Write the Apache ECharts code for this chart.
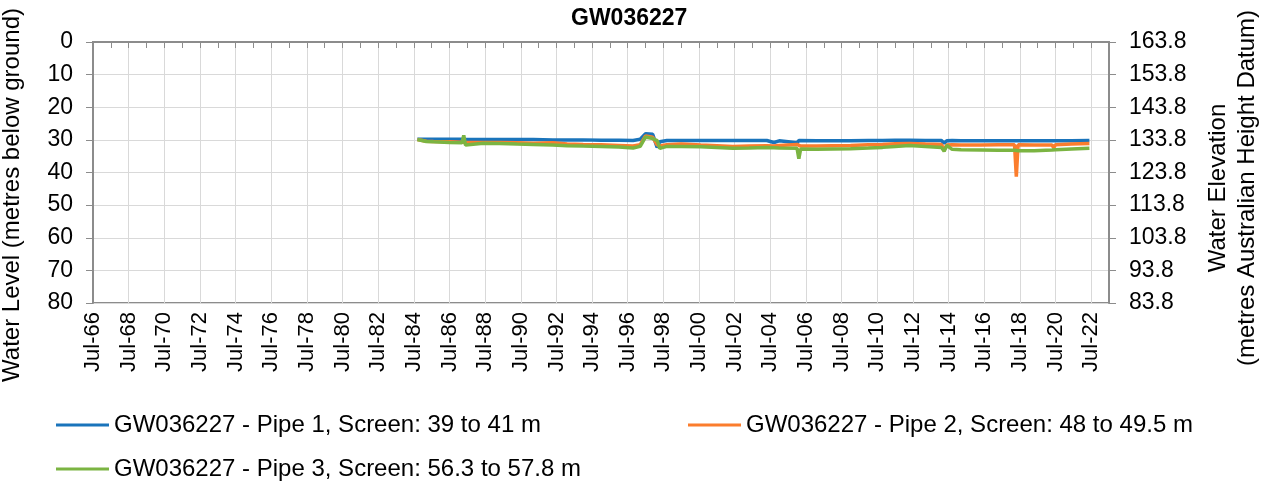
<!DOCTYPE html>
<html>
<head>
<meta charset="utf-8">
<script src="https://cdn.jsdelivr.net/npm/echarts@6/dist/echarts.min.js"></script>
<style>
  html, body { margin: 0; padding: 0; background: #fff; }
  #chart { width: 1264px; height: 488px; }
</style>
</head>
<body>
<div id="chart"></div>
<script>
// 时间（小数年份）
const dates = [1984.7, 1985.2, 1985.6, 1986.5, 1987.2, 1987.3, 1987.4, 1988.4, 1989.3, 1990.3,
  1991.2, 1992.3, 1993.1, 1994.0, 1995.0, 1996.0, 1996.8, 1997.2, 1997.5, 1997.9,
  1998.15, 1998.3, 1998.7, 1999.5, 2000.6, 2001.5, 2002.4, 2003.3, 2004.3, 2004.7,
  2005.0, 2006.0, 2006.1, 2006.2, 2007.1, 2008.0, 2009.0, 2010.0, 2010.8, 2011.5,
  2012.3, 2013.2, 2014.1, 2014.25, 2014.4, 2014.7, 2015.2, 2016.3, 2017.3, 2018.2,
  2018.3, 2018.4, 2019.3, 2020.3, 2020.4, 2020.5, 2021.4, 2022.4]

// 水位（米，地面以下）
const pipe1 = [29.8, 29.8, 29.8, 29.8, 29.8, 29.6, 29.9, 29.9, 29.9, 29.9,
  29.9, 30.0, 30.0, 30.0, 30.1, 30.1, 30.2, 29.8, 28.1, 28.3,
  32.3, 30.6, 30.2, 30.2, 30.2, 30.2, 30.2, 30.2, 30.2, 30.8,
  30.3, 30.9, 30.2, 30.6, 30.3, 30.3, 30.3, 30.2, 30.2, 30.1,
  30.1, 30.2, 30.2, 31.0, 30.3, 30.2, 30.3, 30.3, 30.3, 30.3,
  30.3, 30.3, 30.3, 30.3, 30.3, 30.3, 30.3, 30.2]
const pipe2 = [29.9, 30.4, 30.5, 30.6, 30.7, 30.6, 30.8, 30.8, 30.8, 30.9,
  31.0, 30.9, 31.3, 31.4, 31.5, 31.7, 31.9, 31.5, 28.8, 29.2,
  31.5, 31.9, 31.5, 31.3, 31.6, 31.8, 32.0, 31.9, 31.8, 31.9,
  31.7, 31.4, 31.6, 31.9, 31.9, 31.8, 31.7, 31.5, 31.4, 31.2,
  31.1, 31.3, 31.4, 33.1, 31.6, 31.5, 31.6, 31.6, 31.5, 31.5,
  41.3, 31.5, 31.6, 31.6, 32.4, 31.5, 31.3, 31.1]
const pipe3 = [29.9, 30.5, 30.6, 30.8, 30.9, 28.6, 31.6, 31.0, 31.1, 31.3,
  31.4, 31.6, 31.8, 31.9, 32.0, 32.2, 32.5, 32.0, 29.1, 29.6,
  30.2, 32.6, 32.0, 32.0, 32.1, 32.3, 32.6, 32.5, 32.3, 32.4,
  32.5, 32.6, 35.8, 32.8, 32.9, 32.8, 32.7, 32.5, 32.3, 32.0,
  31.7, 32.0, 32.3, 33.5, 31.7, 32.9, 33.0, 33.1, 33.2, 33.2,
  33.3, 33.3, 33.3, 33.1, 33.2, 33.0, 32.8, 32.6]

const seriesNames = [
  'GW036227 - Pipe 1, Screen: 39 to 41 m',
  'GW036227 - Pipe 2, Screen: 48 to 49.5 m',
  'GW036227 - Pipe 3, Screen: 56.3 to 57.8 m',
]
const colors = ['#1a74bb', '#fb7d2d', '#7bb442']

const startYear = 1966.5 // Jul-66
const groundElev = 163.8
const font = 'Liberation Sans, Arial, sans-serif'

const chart = echarts.init(document.getElementById('chart'))

const toData = (vals) => dates.map((d, i) => [d - startYear, vals[i]])

const legendBase = {
  padding: 0,
  icon: 'rect',
  itemWidth: 53,
  itemHeight: 3,
  itemGap: 6,
  textStyle: { color: '#000', fontSize: 24, fontFamily: font },
}

const option = {
  animation: false,
  title: {
    text: 'GW036227',
    left: 571,
    top: 7,
    padding: 0,
    textStyle: { color: '#000', fontSize: 23, fontWeight: 'bold', fontFamily: font },
  },
  legend: [
    { ...legendBase, data: [seriesNames[0]], left: 56, top: 413 },
    { ...legendBase, data: [seriesNames[1]], left: 688, top: 413 },
    { ...legendBase, data: [seriesNames[2]], left: 56, top: 457 },
  ],
  grid: {
    left: 93,
    right: 155,
    top: 42,
    bottom: 185,
    show: true,
    borderColor: '#8c8c8c',
    borderWidth: 2,
  },
  xAxis: {
    type: 'value',
    min: 0,
    max: 57,
    interval: 2,
    axisLine: { lineStyle: { color: '#8c8c8c', width: 2 } },
    axisTick: { length: 6, lineStyle: { color: '#8c8c8c' } },
    minorTick: { show: true, splitNumber: 2, length: 6, lineStyle: { color: '#8c8c8c' } },
    splitLine: { show: true, lineStyle: { color: '#d9d9d9', width: 1 } },
    axisLabel: {
      rotate: 90,
      margin: 9,
      color: '#000',
      fontSize: 22,
      fontFamily: font,
      formatter: (v) => {
        if (v > 56) return ''
        const yr = (1966 + Math.round(v)) % 100
        return 'Jul-' + String(yr).padStart(2, '0')
      },
    },
  },
  yAxis: [
    {
      type: 'value',
      inverse: true,
      min: 0,
      max: 80,
      interval: 10,
      axisLine: { show: true, lineStyle: { color: '#8c8c8c', width: 2 } },
      axisTick: { show: true, length: 7, lineStyle: { color: '#8c8c8c' } },
      splitLine: { lineStyle: { color: '#d9d9d9', width: 1 } },
      axisLabel: { margin: 20, color: '#000', fontSize: 23, fontFamily: font },
    },
    {
      type: 'value',
      position: 'right',
      inverse: true,
      min: 0,
      max: 80,
      interval: 10,
      axisLine: { show: true, lineStyle: { color: '#8c8c8c', width: 2 } },
      axisTick: { show: true, length: 7, lineStyle: { color: '#8c8c8c' } },
      splitLine: { show: false },
      axisLabel: {
        margin: 20,
        color: '#000',
        fontSize: 23,
        fontFamily: font,
        formatter: (v) => (groundElev - v).toFixed(1),
      },
    },
  ],
  graphic: [
    {
      type: 'text',
      x: 12,
      y: 195,
      rotation: Math.PI / 2,
      style: { text: 'Water Level (metres below ground)', font: '24px ' + font, fill: '#000', align: 'center', verticalAlign: 'middle' },
    },
    {
      type: 'text',
      x: 1218,
      y: 188,
      rotation: Math.PI / 2,
      style: { text: 'Water Elevation', font: '24px ' + font, fill: '#000', align: 'center', verticalAlign: 'middle' },
    },
    {
      type: 'text',
      x: 1247,
      y: 188,
      rotation: Math.PI / 2,
      style: { text: '(metres Australian Height Datum)', font: '24px ' + font, fill: '#000', align: 'center', verticalAlign: 'middle' },
    },
  ],
  series: [pipe1, pipe2, pipe3].map((vals, i) => ({
    name: seriesNames[i],
    type: 'line',
    yAxisIndex: 0,
    symbol: 'none',
    color: colors[i],
    lineStyle: { color: colors[i], width: 3.5 },
    data: toData(vals),
  })),
}

chart.setOption(option)
</script>
</body>
</html>
